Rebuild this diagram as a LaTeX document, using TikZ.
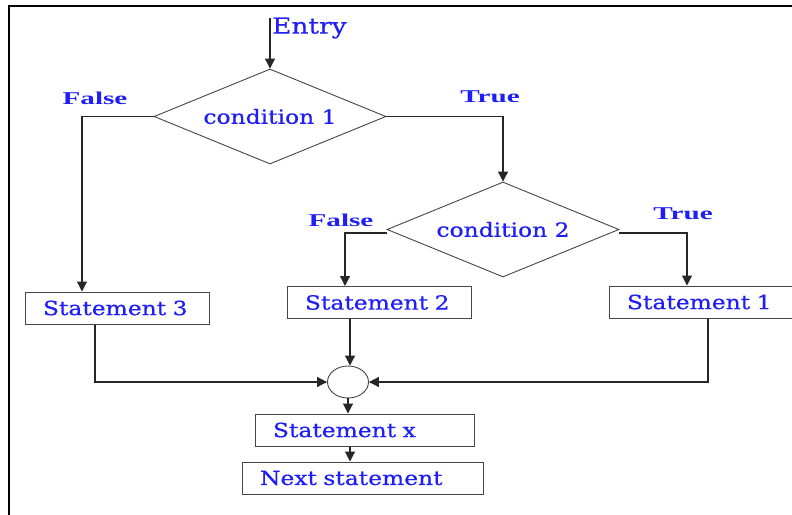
\documentclass[tikz,border=0pt]{standalone}
\usepackage{fontspec}
\usetikzlibrary{shapes.geometric,arrows.meta}
\newfontfamily\df[FakeStretch=1.2,FakeBold=0.6]{DejaVu Serif}
\newfontfamily\dfb[FakeStretch=1.62]{Liberation Serif}
\definecolor{txtblue}{RGB}{30,30,245}
\definecolor{edgegray}{RGB}{70,70,70}
\begin{document}
\begin{tikzpicture}[x=1pt,y=-1pt,
  base/.style={font=\df\fontsize{19.5}{22}\selectfont, text=txtblue},
  lbl/.style={font=\dfb\bfseries\fontsize{18}{20}\selectfont, text=txtblue},
  decision/.style={base, diamond, draw=edgegray, line width=0.9pt, inner sep=0pt,
    aspect=2.44, minimum width=232pt, minimum height=95pt},
  stmt/.style={base, draw=edgegray, line width=1pt, text width=#1, inner xsep=18pt,
    inner ysep=0pt, align=left, minimum height=32pt},
  junction/.style={ellipse, draw=edgegray, line width=0.9pt, minimum width=41pt, minimum height=32pt, inner sep=0pt},
  flow/.style={draw=black!85, line width=1.1pt},
  arr/.style={flow, -{Triangle[length=10pt,width=10pt]}},
  frame/.style={draw=black, line width=1.5pt}
]
\useasboundingbox (0,0) rectangle (792,514);
\clip (0,0) rectangle (792,514);
\fill[white] (0,0) rectangle (792,514);

% frame
\coordinate (fbl) at (9,520);
\coordinate (ftl) at (9,6);
\coordinate (ftr) at (800,6);
\draw[frame] (fbl) -- (ftl) -- (ftr);

% nodes
\node[decision] (d1) at (270,116.5) {condition 1};
\node[decision] (d2) at (503,229.5) {condition 2};
\node[stmt=148pt] (s3) at (117,308) {Statement 3};
\node[stmt=148pt] (s2) at (379,302.5) {Statement 2};
\node[stmt=154pt] (s1) at (704,302) {Statement 1};
\node[junction] (j) at (348,382) {};
\node[stmt=183pt] (sx) at (364.5,430) {Statement x};
\node[stmt=205pt] (nx) at (362.5,478) {Next statement};

% labels
\node[base, font=\df\fontsize{22}{26}\selectfont, anchor=west, inner sep=0pt] (entrytxt) at (272,28) {Entry};
\node[lbl] (f1) at (95,98) {False};
\node[lbl] (t1) at (490,97) {True};
\node[lbl] (f2) at (341,220) {False};
\node[lbl] (t2) at (683,214) {True};

% connectors
\coordinate (entry) at (270,18);
\draw[arr] (entry) -- (d1.north);

\coordinate (c1) at (82,116.5);
\draw[arr] (d1.west) -- (c1) -- (c1 |- s3.north);

\draw[arr] (d1.east) -| (d2.north);

\coordinate (c2) at (345,233);
\draw[arr] (d2.west |- c2) -- (c2) -- (c2 |- s2.north);

\coordinate (c3) at (687,233);
\draw[arr] (d2.east |- c3) -- (c3) -- (c3 |- s1.north);

\coordinate (m3) at (95,382);
\draw[arr] (m3 |- s3.south) -- (m3) -- (j.west);

\coordinate (m2) at (350,330);
\draw[arr] (m2 |- s2.south) -- (m2 |- j.north);

\coordinate (m1) at (708,382);
\draw[arr] (m1 |- s1.south) -- (m1) -- (j.east);

\draw[arr] (j.south) -- (j.south |- sx.north);
\coordinate (m4) at (350,446);
\draw[arr] (m4 |- sx.south) -- (m4 |- nx.north);
\end{tikzpicture}
\end{document}
